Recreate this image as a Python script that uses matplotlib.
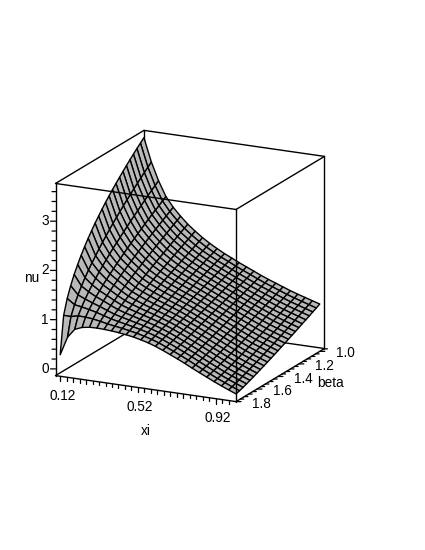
import numpy as np
import matplotlib
matplotlib.use("Agg")
import matplotlib.pyplot as plt
from mpl_toolkits.mplot3d import proj3d

plt.rcParams["font.family"] = ["Liberation Sans", "DejaVu Sans"]

# grid of the surface
xi = [0.120, 0.158, 0.195, 0.233, 0.271, 0.309, 0.346, 0.384, 0.422, 0.459, 0.497, 0.535, 0.573,
      0.610, 0.648, 0.686, 0.723, 0.761, 0.799, 0.836, 0.874, 0.912, 0.950, 0.987, 1.025]
beta = [1.800, 1.767, 1.733, 1.700, 1.667, 1.633, 1.600, 1.567, 1.533, 1.500, 1.467, 1.433, 1.400,
        1.367, 1.333, 1.300, 1.267, 1.233, 1.200, 1.167, 1.133, 1.100, 1.067, 1.033, 1.000]

# nu, one list per xi, beta going 1.8 -> 1.0
nu = [
    [.300, 1.059, 1.358, 1.575, 1.761, 1.920, 2.066, 2.198, 2.324, 2.439, 2.548, 2.649, 2.748, 2.843, 2.931, 3.019, 3.100, 3.182, 3.259, 3.337, 3.412, 3.483, 3.554, 3.622, 3.690],
    [.680, 1.056, 1.252, 1.409, 1.546, 1.671, 1.785, 1.892, 1.996, 2.090, 2.184, 2.270, 2.356, 2.438, 2.519, 2.595, 2.671, 2.745, 2.816, 2.887, 2.956, 3.024, 3.090, 3.154, 3.220],
    [.860, 1.090, 1.228, 1.346, 1.452, 1.548, 1.640, 1.726, 1.808, 1.886, 1.964, 2.036, 2.108, 2.178, 2.246, 2.312, 2.378, 2.442, 2.504, 2.566, 2.626, 2.686, 2.746, 2.802, 2.860],
    [.920, 1.086, 1.196, 1.287, 1.373, 1.450, 1.525, 1.596, 1.663, 1.729, 1.794, 1.855, 1.915, 1.975, 2.032, 2.089, 2.145, 2.199, 2.253, 2.306, 2.358, 2.409, 2.460, 2.511, 2.560],
    [.945, 1.071, 1.160, 1.236, 1.309, 1.374, 1.439, 1.500, 1.559, 1.617, 1.672, 1.727, 1.780, 1.832, 1.885, 1.934, 1.985, 2.035, 2.083, 2.129, 2.177, 2.223, 2.269, 2.315, 2.360],
    [.950, 1.043, 1.114, 1.178, 1.239, 1.295, 1.350, 1.405, 1.458, 1.509, 1.560, 1.610, 1.659, 1.706, 1.754, 1.800, 1.846, 1.893, 1.938, 1.981, 2.026, 2.070, 2.114, 2.156, 2.200],
    [.945, 1.013, 1.071, 1.123, 1.176, 1.225, 1.274, 1.322, 1.369, 1.414, 1.461, 1.506, 1.550, 1.595, 1.639, 1.682, 1.726, 1.768, 1.810, 1.853, 1.895, 1.936, 1.977, 2.019, 2.060],
    [.935, .989, 1.038, 1.084, 1.128, 1.172, 1.215, 1.259, 1.301, 1.343, 1.384, 1.425, 1.467, 1.507, 1.547, 1.587, 1.626, 1.667, 1.706, 1.745, 1.785, 1.823, 1.863, 1.901, 1.940],
    [.920, .965, 1.006, 1.046, 1.087, 1.125, 1.164, 1.202, 1.240, 1.279, 1.316, 1.354, 1.391, 1.429, 1.465, 1.502, 1.539, 1.575, 1.612, 1.648, 1.685, 1.721, 1.757, 1.794, 1.830],
    [.900, .938, .975, 1.011, 1.047, 1.082, 1.117, 1.152, 1.187, 1.222, 1.257, 1.292, 1.326, 1.360, 1.394, 1.429, 1.463, 1.497, 1.532, 1.565, 1.600, 1.634, 1.667, 1.702, 1.735],
    [.875, .908, .941, .974, 1.007, 1.039, 1.072, 1.104, 1.136, 1.169, 1.200, 1.233, 1.265, 1.297, 1.329, 1.362, 1.394, 1.425, 1.458, 1.490, 1.522, 1.554, 1.586, 1.617, 1.650],
    [.840, .870, .901, .931, .962, .992, 1.022, 1.053, 1.083, 1.114, 1.144, 1.175, 1.205, 1.235, 1.266, 1.296, 1.327, 1.357, 1.388, 1.418, 1.448, 1.479, 1.509, 1.540, 1.570],
    [.800, .827, .855, .884, .913, .941, .970, 1.000, 1.028, 1.058, 1.087, 1.116, 1.145, 1.175, 1.204, 1.233, 1.263, 1.292, 1.322, 1.352, 1.381, 1.411, 1.441, 1.471, 1.500],
    [.750, .776, .802, .830, .857, .885, .913, .941, .969, .998, 1.026, 1.054, 1.083, 1.112, 1.140, 1.169, 1.197, 1.227, 1.255, 1.284, 1.314, 1.342, 1.372, 1.401, 1.430],
    [.690, .714, .739, .766, .793, .820, .847, .876, .903, .931, .959, .987, 1.016, 1.044, 1.073, 1.102, 1.131, 1.160, 1.189, 1.218, 1.248, 1.277, 1.306, 1.335, 1.365],
    [.625, .649, .674, .699, .726, .753, .780, .808, .836, .864, .892, .920, .949, .977, 1.006, 1.035, 1.064, 1.093, 1.122, 1.152, 1.181, 1.211, 1.241, 1.270, 1.300],
    [.560, .583, .607, .633, .659, .686, .713, .741, .769, .797, .825, .854, .882, .911, .939, .968, .998, 1.027, 1.056, 1.086, 1.116, 1.145, 1.175, 1.205, 1.235],
    [.490, .513, .537, .563, .589, .616, .643, .672, .700, .728, .756, .785, .815, .844, .874, .903, .933, .963, .992, 1.022, 1.052, 1.083, 1.113, 1.144, 1.175],
    [.415, .438, .462, .488, .514, .543, .570, .599, .628, .658, .687, .717, .746, .777, .808, .838, .869, .900, .931, .961, .993, 1.025, 1.057, 1.088, 1.120],
    [.345, .367, .392, .418, .446, .473, .502, .531, .560, .590, .620, .650, .681, .712, .743, .775, .807, .838, .871, .902, .935, .967, .999, 1.032, 1.065],
    [.275, .296, .321, .346, .373, .401, .430, .459, .490, .520, .551, .582, .613, .645, .678, .710, .742, .776, .809, .842, .875, .908, .942, .975, 1.010],
    [.205, .225, .249, .276, .303, .332, .361, .391, .421, .452, .484, .515, .548, .580, .613, .647, .681, .715, .749, .783, .818, .854, .889, .924, .960],
    [.140, .161, .185, .213, .241, .270, .300, .331, .362, .393, .426, .459, .492, .525, .559, .593, .628, .663, .698, .734, .769, .806, .842, .878, .915],
    [.080, .101, .126, .154, .183, .213, .243, .274, .306, .338, .372, .405, .439, .473, .507, .542, .578, .613, .649, .685, .722, .759, .796, .832, .870],
    [.020, .042, .067, .096, .125, .155, .186, .218, .250, .283, .317, .351, .385, .420, .455, .491, .527, .563, .600, .637, .674, .711, .749, .786, .825],
]

# axis ranges and tick labels
xi_lim = (0.096, 1.025)
beta_lim = (1.8, 0.955)
nu_lim = (-0.136, 3.766)
xi_labels = [0.12, 0.52, 0.92]
beta_labels = [1.8, 1.6, 1.4, 1.2, 1.0]
nu_labels = [0, 1, 2, 3]

W, H = 425, 550
side = 338  # axes size in pixels, gives a 201 px cube
cx, cy = 190, 266  # cube centre in pixels

fig = plt.figure(figsize=(W / 100, H / 100), dpi=100)
ax = fig.add_axes(
    [(cx - 0.5135 * side) / W, 1 - (cy + 0.5135 * side) / H, side / W, side / H],
    projection="3d",
    computed_zorder=False,
)
ax.set_proj_type("ortho")
ax.view_init(elev=17.1, azim=-63.9)
ax.set_box_aspect((1, 1, 1))
ax.set_xlim(*xi_lim, view_margin=0)
ax.set_ylim(*beta_lim, view_margin=0)
ax.set_zlim(*nu_lim, view_margin=0)
ax.set_axis_off()


def shift(x, y, z, dx=0.0, dy=0.0):
    # move a data point by screen pixels (dx right, dy down)
    du = dx / 223.25
    dv = du * 0.486
    return (
        x + du * (xi_lim[1] - xi_lim[0]),
        y + dv * (beta_lim[1] - beta_lim[0]),
        z - dy / 192 * (nu_lim[1] - nu_lim[0]),
    )


def seg(a, b, zorder=3, lw=1.0):
    ax.plot([a[0], b[0]], [a[1], b[1]], [a[2], b[2]], color="black", lw=lw, zorder=zorder,
            solid_capstyle="round")


def label(p, s):
    # flat text at the projected position of a 3d point
    px, py, _ = proj3d.proj_transform(p[0], p[1], p[2], ax.get_proj())
    ax.text2D(px, py, s, transform=ax.transData, fontsize=9.8, ha="center", va="center")


x0, x1 = xi_lim
y0, y1 = beta_lim
z0, z1 = nu_lim

# box edges hidden by the surface
seg((x0, y0, z0), (x0, y1, z0), zorder=1)
seg((x0, y1, z0), (x1, y1, z0), zorder=1)
seg((x0, y1, z0), (x0, y1, z1), zorder=1)

X, Y = np.meshgrid(xi, beta)
Z = np.array(nu).T
ax.plot_surface(X, Y, Z, rstride=1, cstride=1, color="#b9b9b9", edgecolor="black",
                linewidth=1.0, shade=False, antialiased=True, zorder=2)

# box edges in front
seg((x0, y0, z0), (x1, y0, z0))
seg((x1, y0, z0), (x1, y1, z0))
seg((x1, y1, z0), (x1, y1, z1))
seg((x0, y0, z0), (x0, y0, z1))
seg((x1, y0, z0), (x1, y0, z1))
seg((x0, y0, z1), (x1, y0, z1))
seg((x1, y0, z1), (x1, y1, z1))
seg((x1, y1, z1), (x0, y1, z1))
seg((x0, y1, z1), (x0, y0, z1))

# ticks
for t in np.arange(0.12, 1.02, 0.4 / 12):
    major = min(abs(t - v) for v in xi_labels) < 1e-6
    seg((t, y0, z0), shift(t, y0, z0, dy=5 if major else 3.5), lw=0.9)
for t in np.arange(0.96, 1.81, 0.04):
    major = min(abs(t - v) for v in beta_labels) < 1e-6
    seg((x1, t, z0), shift(x1, t, z0, dx=5 if major else 3.5), lw=0.9)
for t in np.arange(0, 3.7, 0.2):
    major = min(abs(t - v) for v in nu_labels) < 1e-6
    seg((x0, y0, t), shift(x0, y0, t, dx=-5 if major else -3.5), lw=0.9)

# tick labels and axis titles
for t in xi_labels:
    label(shift(t, y0, z0, dx=2, dy=19.6), f"{t:.2f}")
for t in beta_labels:
    label(shift(x1, t, z0, dx=25.7, dy=2.1), f"{t:.1f}")
for t in nu_labels:
    label(shift(x0, y0, t, dx=-10.5), str(t))
label(shift(0.56, y0, z0, dy=42), "xi")
label(shift(x1, 1.38, z0, dx=50, dy=8), "beta")
label(shift(x0, y0, 1.84, dx=-24), "nu")

fig.savefig("out.png", dpi=100, facecolor="white")
plt.close(fig)
